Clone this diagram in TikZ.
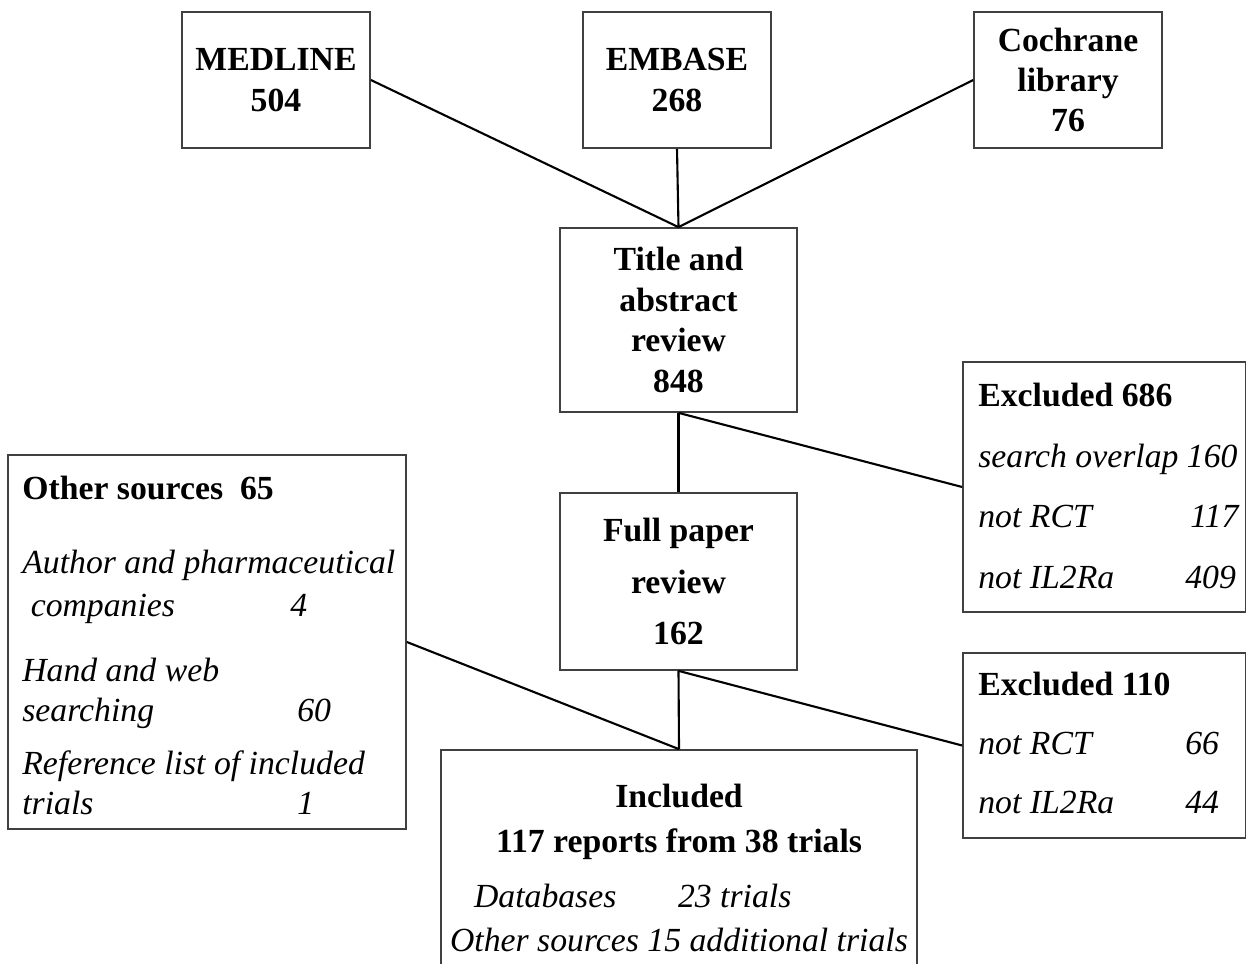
\documentclass[tikz,border=0pt]{standalone}
\usepackage{fontspec}
\setmainfont{Liberation Serif}
\usepackage{tikz}

\newcommand{\flowfont}{\fontsize{19.2pt}{23pt}\selectfont}
\newcommand{\head}[1]{{\upshape\bfseries #1}}

\begin{document}
\begin{tikzpicture}[x=0.02cm,y=-0.02cm]
  \tikzstyle{block}=[draw=black!75,line width=1pt,inner sep=0pt,align=center,font=\flowfont\bfseries]
  \tikzstyle{src}=[block,minimum width=3.76cm,minimum height=2.72cm]
  \tikzstyle{txt}=[inner sep=0pt,anchor=north west,align=left,font=\flowfont\itshape]
  \useasboundingbox (0,0) rectangle (1246,963);
  % databases
  \node[src] (med) at (276,80) {MEDLINE\\504};
  \node[src] (emb) at (677,80) {EMBASE\\268};
  \node[src] (coch) at (1068,80) {Cochrane\\library\\76};
  % screening
  \node[block,minimum width=4.74cm,minimum height=3.68cm] (title) at (678.5,320) {Title and\\abstract\\review\\848};
  \node[block,minimum width=4.74cm,minimum height=3.54cm] (full) at (678.5,581.5) {Full paper\\[6.5pt]review\\[6.5pt]162};
  \node[block,minimum width=9.52cm,minimum height=4.72cm] (inc) at (679,868) {Included\\[2.5pt]117 reports from 38 trials\\[8.7pt]
    {\itshape\mdseries\makebox[8.2cm][l]{\makebox[4.08cm][l]{Databases}23 trials}}\\[2pt]
    {\itshape\mdseries Other sources 15 additional trials}};
  % exclusions
  \node[block,minimum width=5.66cm,minimum height=5cm] (exc1) at (1104.5,487) {};
  \node[txt] (exc1txt) at (978,383) {\head{Excluded 686}\\[11.5pt]search overlap 160\\[11.5pt]\makebox[4.24cm][l]{not RCT}117\\[11.5pt]\makebox[4.14cm][l]{not IL2Ra}409};
  \node[block,minimum width=5.66cm,minimum height=3.7cm] (exc2) at (1104.5,745.5) {};
  \node[txt] (exc2txt) at (978,672) {\head{Excluded 110}\\[10.5pt]\makebox[4.14cm][l]{not RCT}66\\[10.5pt]\makebox[4.14cm][l]{not IL2Ra}44};
  % other sources
  \node[block,minimum width=7.96cm,minimum height=7.48cm] (oth) at (207,642) {};
  \node[txt] (othtxt) at (22,476) {\head{Other sources\ \ 65}\\[19pt]Author and pharmaceutical\\[1.4pt]\makebox[5.36cm][l]{\ companies}4\\[14pt]Hand and web\\\makebox[5.5cm][l]{searching}60\\[7pt]Reference list of included\\\makebox[5.5cm][l]{trials}1};
  \foreach \a/\b in {med.east/title.north,emb.south/title.north,coch.west/title.north,title.south/full.north,title.south/exc1.west,full.south/inc.north,full.south/exc2.west,oth.east/inc.north}
    \draw[line width=1.2pt] (\a) -- (\b);
\end{tikzpicture}
\end{document}
